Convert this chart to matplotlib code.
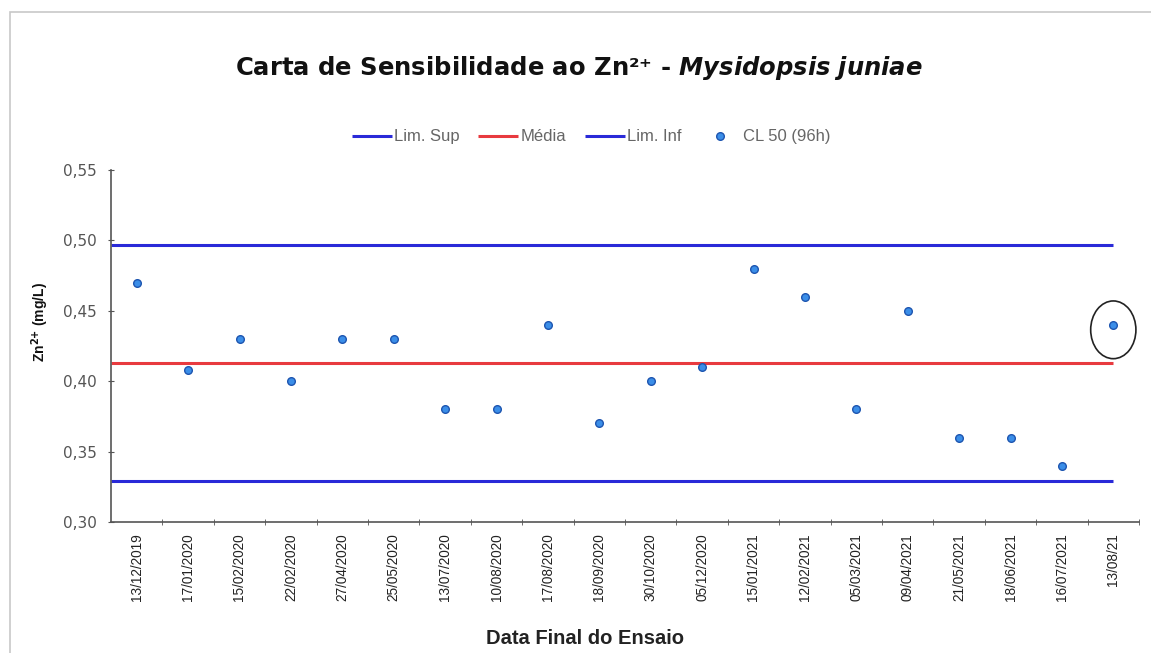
import matplotlib
matplotlib.use("Agg")
import matplotlib.pyplot as plt
from matplotlib.patches import Ellipse, Rectangle
from matplotlib.ticker import FixedLocator, FuncFormatter

plt.rcParams['font.family'] = ['Liberation Sans', 'DejaVu Sans']
plt.rcParams['mathtext.fontset'] = 'custom'
plt.rcParams['mathtext.rm'] = 'DejaVu Sans'
plt.rcParams['mathtext.it'] = 'DejaVu Sans:italic'
plt.rcParams['mathtext.bf'] = 'DejaVu Sans:bold'
plt.rcParams['mathtext.bfit'] = 'DejaVu Sans:bold:italic'

# datas dos ensaios e CL50 (96h)
datas = ["13/12/2019", "17/01/2020", "15/02/2020", "22/02/2020", "27/04/2020",
         "25/05/2020", "13/07/2020", "10/08/2020", "17/08/2020", "18/09/2020",
         "30/10/2020", "05/12/2020", "15/01/2021", "12/02/2021", "05/03/2021",
         "09/04/2021", "21/05/2021", "18/06/2021", "16/07/2021", "13/08/21"]
cl50 = [0.47, 0.408, 0.43, 0.40, 0.43, 0.43, 0.38, 0.38, 0.44, 0.37,
        0.40, 0.41, 0.48, 0.46, 0.38, 0.45, 0.36, 0.36, 0.34, 0.44]
lim_sup = 0.497
media = 0.413
lim_inf = 0.329

azul = "#2a2ad8"
vermelho = "#e83a3f"

fig = plt.figure(figsize=(11.51, 6.53), dpi=100)
# moldura cinza
fig.patches.append(Rectangle((10/1151, -0.01), 1.0, 1 - 12/653 + 0.01,
                             transform=fig.transFigure, fill=False,
                             edgecolor="#c8c8c8", linewidth=1.2))

ax = fig.add_axes([111/1151, 1 - 522/653, (1139 - 111)/1151, (522 - 170)/653])

x = list(range(len(datas)))
ax.hlines(lim_sup, -0.5, x[-1], color=azul, linewidth=2.2, label="Lim. Sup")
ax.hlines(media, -0.5, x[-1], color=vermelho, linewidth=2.2, label="Média")
ax.hlines(lim_inf, -0.5, x[-1], color=azul, linewidth=2.2, label="Lim. Inf")
ax.plot(x, cl50, linestyle="none", marker="o", markersize=5.5,
        markerfacecolor="#3b8ee8", markeredgecolor="#1d55b0",
        markeredgewidth=1.0, label="CL 50 (96h)", zorder=5)

# destaque do ultimo ponto
ax.add_patch(Ellipse((x[-1], cl50[-1] - 0.0035), 0.88, 0.041, fill=False,
                     edgecolor="#222222", linewidth=1.2, clip_on=False))

ax.set_xlim(-0.5, len(datas) - 0.5)
ax.set_ylim(0.30, 0.55)
ax.set_yticks([0.30, 0.35, 0.40, 0.45, 0.50, 0.55])
ax.yaxis.set_major_formatter(FuncFormatter(lambda v, p: f"{v:.2f}".replace(".", ",")))
ax.set_xticks(x)
ax.set_xticklabels(datas, rotation=90, fontsize=9.8, color="#222222")
ax.xaxis.set_minor_locator(FixedLocator([i + 0.5 for i in range(len(datas))]))
ax.tick_params(axis="x", which="major", length=0, pad=8)
ax.tick_params(axis="x", which="minor", length=4, direction="inout", color="#555555")
ax.tick_params(axis="y", length=4, direction="inout", color="#555555",
               labelsize=11, labelcolor="#555555", pad=8)
for t in ax.get_yticklabels():
    t.set_fontfamily("DejaVu Sans")

for s in ["top", "right"]:
    ax.spines[s].set_visible(False)
for s in ["left", "bottom"]:
    ax.spines[s].set_color("#555555")
    ax.spines[s].set_linewidth(1.2)

fig.text(40/1151, 1 - 322/653, r"Zn$^{\mathbf{2{+}}}$ (mg/L)", rotation=90,
         ha="center", va="center", fontsize=10, fontweight="bold", color="#111111")
fig.text(585/1151, 1 - 638/653, "Data Final do Ensaio", ha="center", va="center",
         fontsize=14.5, fontweight="bold", color="#222222")

fig.text(579/1151, 1 - 68/653,
         r"Carta de Sensibilidade ao Zn²⁺ - $\mathbfit{Mysidopsis\ juniae}$",
         ha="center", va="center", fontsize=17.5, fontweight="bold",
         fontfamily="DejaVu Sans", color="#111111")

leg = ax.legend(loc="center", bbox_to_anchor=(591/1151, 1 - 137/653),
                bbox_transform=fig.transFigure, ncol=4, frameon=False,
                fontsize=12, handlelength=2.4, columnspacing=1.1, handletextpad=0.15)
for t in leg.get_texts():
    t.set_color("#666666")

fig.savefig("out.png", dpi=100)
